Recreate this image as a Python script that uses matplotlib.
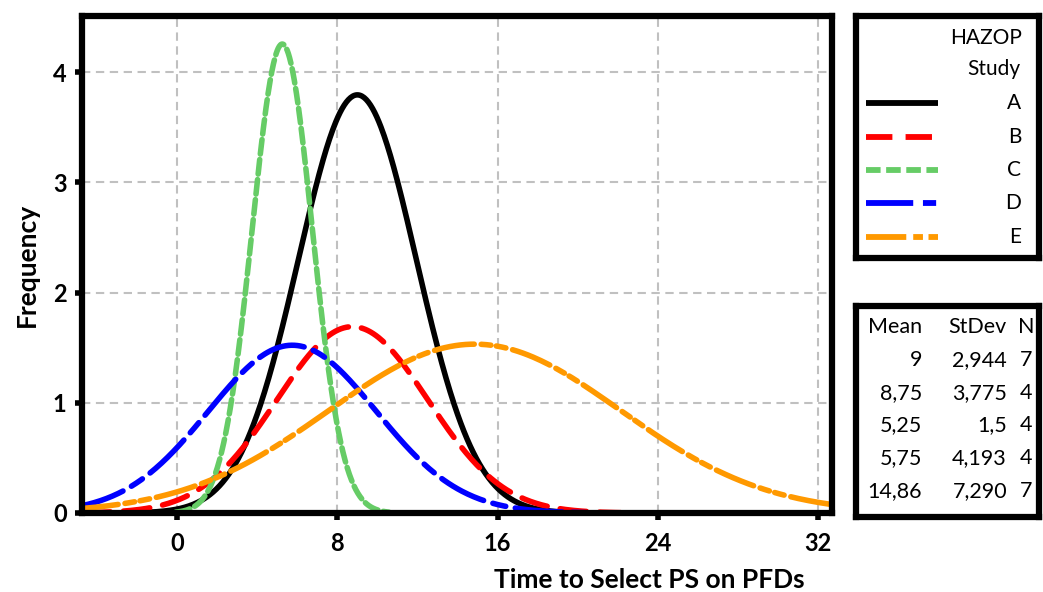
import numpy as np
import matplotlib
matplotlib.use("Agg")
import matplotlib.pyplot as plt

plt.rcParams['font.family'] = ['Lato', 'DejaVu Sans']
plt.rcParams['lines.scale_dashes'] = False

# HAZOP study summary (as shown in the table)
studies = ['A', 'B', 'C', 'D', 'E']
means = [9, 8.75, 5.25, 5.75, 14.86]
stdevs = [2.944, 3.775, 1.5, 4.193, 7.290]
counts = [7, 4, 4, 4, 7]
mean_lbl = ['9', '8,75', '5,25', '5,75', '14,86']
sd_lbl = ['2,944', '3,775', '1,5', '4,193', '7,290']
n_lbl = ['7', '4', '4', '4', '7']
bin_width = 4

colors = ['#000000', '#FF0000', '#66CC66', '#0000FF', '#FF9900']
dashes = [None, (19, 9.5), (10.5, 4), (34, 7, 9.5, 7), (29, 5, 7, 4, 7, 5)]

fig = plt.figure(figsize=(10.43, 5.92), dpi=100)
W, H = 1043, 592

def px_axes(x0, y0, x1, y1):
    return fig.add_axes([x0 / W, 1 - y1 / H, (x1 - x0) / W, (y1 - y0) / H])

ax = px_axes(82, 16, 832, 513)

for m, s, n, c, d in zip(means, stdevs, counts, colors, dashes):
    x = np.linspace(m - 3.55 * s, m + 3.55 * s, 400)
    y = n * bin_width / (s * np.sqrt(2 * np.pi)) * np.exp(-0.5 * ((x - m) / s) ** 2)
    line, = ax.plot(x, y, color=c, lw=4, solid_capstyle='round')
    if d is not None:
        line.set_dashes(d)
        line.set_dash_capstyle('round')

ax.set_xlim(-4.75, 32.7)
ax.set_ylim(0, 4.51)
ax.set_xticks([0, 8, 16, 24, 32])
ax.set_yticks([0, 1, 2, 3, 4])
ax.grid(True, color='#C0C0C0', lw=1.5, dashes=(6, 4))
ax.set_axisbelow(True)
for sp in ax.spines.values():
    sp.set_linewidth(4.5)
ax.tick_params(direction='out', length=5, width=4, labelsize=17)
ax.tick_params(axis='x', pad=9)
ax.tick_params(axis='y', pad=6)
for lab in ax.get_xticklabels() + ax.get_yticklabels():
    lab.set_fontweight('bold')
# label sits right of centre in the original
ax.set_xlabel('Time to Select PS on PFDs', fontsize=19, fontweight='bold', labelpad=9, x=0.757)
ax.set_ylabel('Frequency', fontsize=19, fontweight='bold', labelpad=10)

# legend box
lg = px_axes(856, 16, 1039, 258)
lg.set_xlim(856, 1039)
lg.set_ylim(258, 16)
lg.set_xticks([])
lg.set_yticks([])
for sp in lg.spines.values():
    sp.set_linewidth(4.5)
lg.text(1022, 38, 'HAZOP', ha='right', va='center', fontsize=15)
lg.text(1020, 69, 'Study', ha='right', va='center', fontsize=15)
rows_y = [103, 137, 170, 203, 237]
for lab, c, d, yy in zip(studies, colors, dashes, rows_y):
    ln, = lg.plot([866, 938], [yy, yy], color=c, lw=4.2, solid_capstyle='butt')
    if d is not None:
        ln.set_dashes(d)
    lg.text(1021, yy, lab, ha='right', va='center', fontsize=15)

# statistics table
tb = px_axes(856, 306, 1039, 517)
tb.set_xlim(856, 1039)
tb.set_ylim(517, 306)
tb.set_xticks([])
tb.set_yticks([])
for sp in tb.spines.values():
    sp.set_linewidth(4.5)
ty = np.linspace(327, 491, 6)
fs = 15.5
tb.text(922, ty[0], 'Mean', ha='right', va='center', fontsize=fs)
tb.text(1007, ty[0], 'StDev', ha='right', va='center', fontsize=fs)
tb.text(1026, ty[0], 'N', ha='center', va='center', fontsize=fs)
for i in range(len(studies)):
    tb.text(922, ty[i + 1], mean_lbl[i], ha='right', va='center', fontsize=fs)
    tb.text(1007, ty[i + 1], sd_lbl[i], ha='right', va='center', fontsize=fs)
    tb.text(1026, ty[i + 1], n_lbl[i], ha='center', va='center', fontsize=fs)

fig.savefig('out.png', dpi=100)
